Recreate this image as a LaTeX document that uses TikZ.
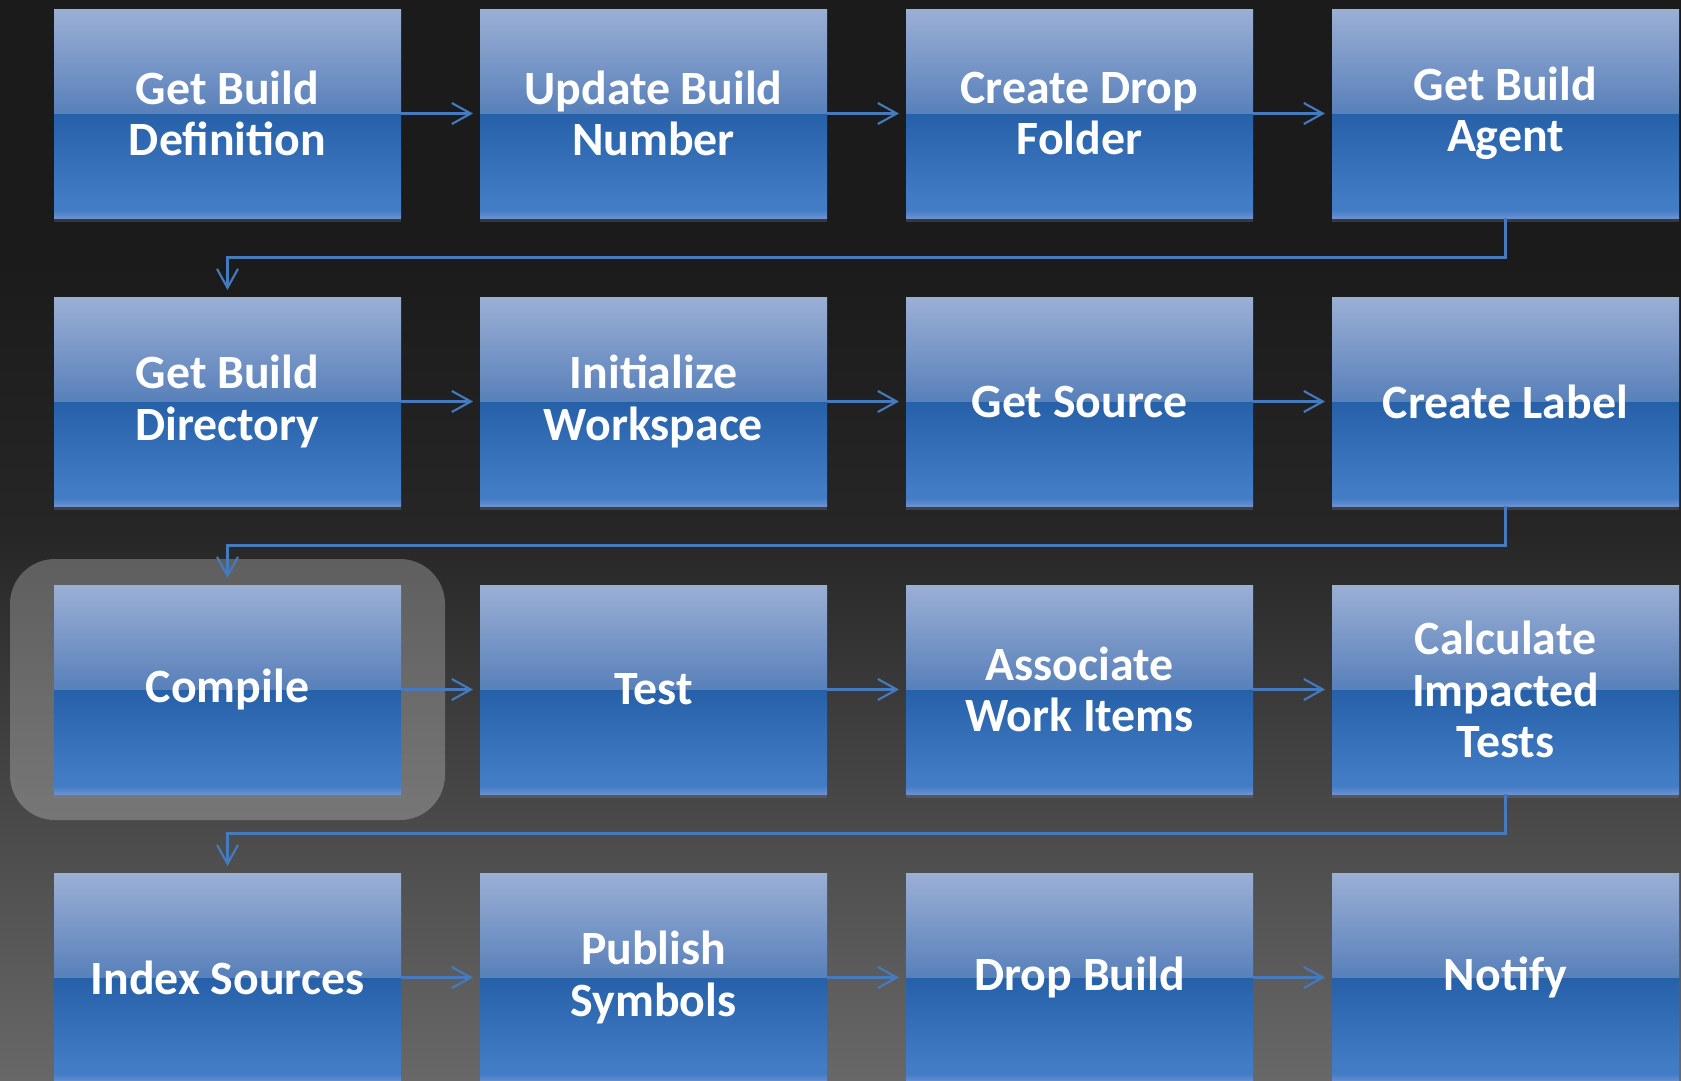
\documentclass[tikz,border=0pt]{standalone}
\usepackage{fontspec}
\setmainfont{Carlito}
\usetikzlibrary{positioning,arrows.meta,fit,backgrounds,shadows}
\pgfdeclarelayer{backdrop}
\pgfsetlayers{backdrop,background,main}

\definecolor{flowline}{RGB}{70,122,190}
\definecolor{boxedge}{RGB}{104,146,212}
\definecolor{boxlow}{RGB}{66,124,196}
\definecolor{boxmid}{RGB}{38,96,168}
\definecolor{boxsplit}{RGB}{88,128,186}
\definecolor{boxtop}{RGB}{155,175,213}
\definecolor{pagetop}{RGB}{27,27,27}
\definecolor{pagemid}{RGB}{38,38,38}
\definecolor{pagelow}{RGB}{75,75,75}
\definecolor{pagebot}{RGB}{104,104,104}

% box: light top half, hard edge, darker bottom half
\pgfdeclareverticalshading{boxshade}{100bp}{color(0bp)=(boxedge); color(25bp)=(boxedge);
  color(27bp)=(boxlow); color(29bp)=(boxlow); color(50bp)=(boxmid); color(50bp)=(boxsplit);
  color(75bp)=(boxtop); color(100bp)=(boxtop)}
\pgfdeclareverticalshading{pageshade}{100bp}{color(0bp)=(pagebot); color(25bp)=(pagebot);
  color(36.5bp)=(pagelow); color(50.5bp)=(pagemid); color(63bp)=(pagetop); color(100bp)=(pagetop)}

\begin{document}
\begin{tikzpicture}[x=0.1mm, y=-0.1mm, node distance=7.9mm,
      box/.style={rectangle, shading=boxshade, minimum width=34.7mm, minimum height=20.9mm,
                  inner sep=0pt, outer sep=0pt, align=center, text=white,
                  font=\fontsize{13.6}{14.6}\selectfont\bfseries,
                  drop shadow={opacity=0.3, shadow xshift=0mm, shadow yshift=-0.4mm}},
      flow/.style={draw=flowline, line width=0.6pt, shorten >=0.7mm,
                   -{Straight Barb[length=1.9mm, width=2.1mm]}},
      highlight/.style={rectangle, rounded corners=4.5mm, fill=white, fill opacity=0.25,
                        inner xsep=4.4mm, inner ysep=2.6mm}]
    \useasboundingbox (0,0) rectangle (1681,1080);
    \begin{pgfonlayer}{backdrop}
      \shade[shading=pageshade] (0,0) rectangle (1681,1080);
    \end{pgfonlayer}

    \node[box] (def) at (227.5,113.5) {Get Build\\Definition};
    \node[box, right=of def] (buildnum) {Update Build\\Number};
    \node[box, right=of buildnum] (drop) {Create Drop\\Folder};
    \node[box, right=of drop] (agent) {Get Build\\Agent};

    \node[box, below=of def] (dir) {Get Build\\Directory};
    \node[box, right=of dir] (workspace) {Initialize\\Workspace};
    \node[box, right=of workspace] (source) {Get Source};
    \node[box, right=of source] (label) {Create Label};

    \node[box, below=of dir] (compile) {Compile};
    \node[box, right=of compile] (test) {Test};
    \node[box, right=of test] (assoc) {Associate\\Work Items};
    \node[box, right=of assoc] (impacted) {Calculate\\Impacted\\Tests};

    \node[box, below=of compile] (index) {Index Sources};
    \node[box, right=of index] (symbols) {Publish\\Symbols};
    \node[box, right=of symbols] (dropbuild) {Drop Build};
    \node[box, right=of dropbuild] (notify) {Notify};

    \begin{scope}[on background layer]
      \node[highlight, fit=(compile)] (current) {};
    \end{scope}

    \draw[flow] (def) -- (buildnum);
    \draw[flow] (buildnum) -- (drop);
    \draw[flow] (drop) -- (agent);
    \draw[flow] (agent.south) -- ++(0,-3.95mm) -| (dir.north);
    \draw[flow] (dir) -- (workspace);
    \draw[flow] (workspace) -- (source);
    \draw[flow] (source) -- (label);
    \draw[flow] (label.south) -- ++(0,-3.95mm) -| (compile.north);
    \draw[flow] (compile) -- (test);
    \draw[flow] (test) -- (assoc);
    \draw[flow] (assoc) -- (impacted);
    \draw[flow] (impacted.south) -- ++(0,-3.95mm) -| (index.north);
    \draw[flow] (index) -- (symbols);
    \draw[flow] (symbols) -- (dropbuild);
    \draw[flow] (dropbuild) -- (notify);
  \end{tikzpicture}
\end{document}
